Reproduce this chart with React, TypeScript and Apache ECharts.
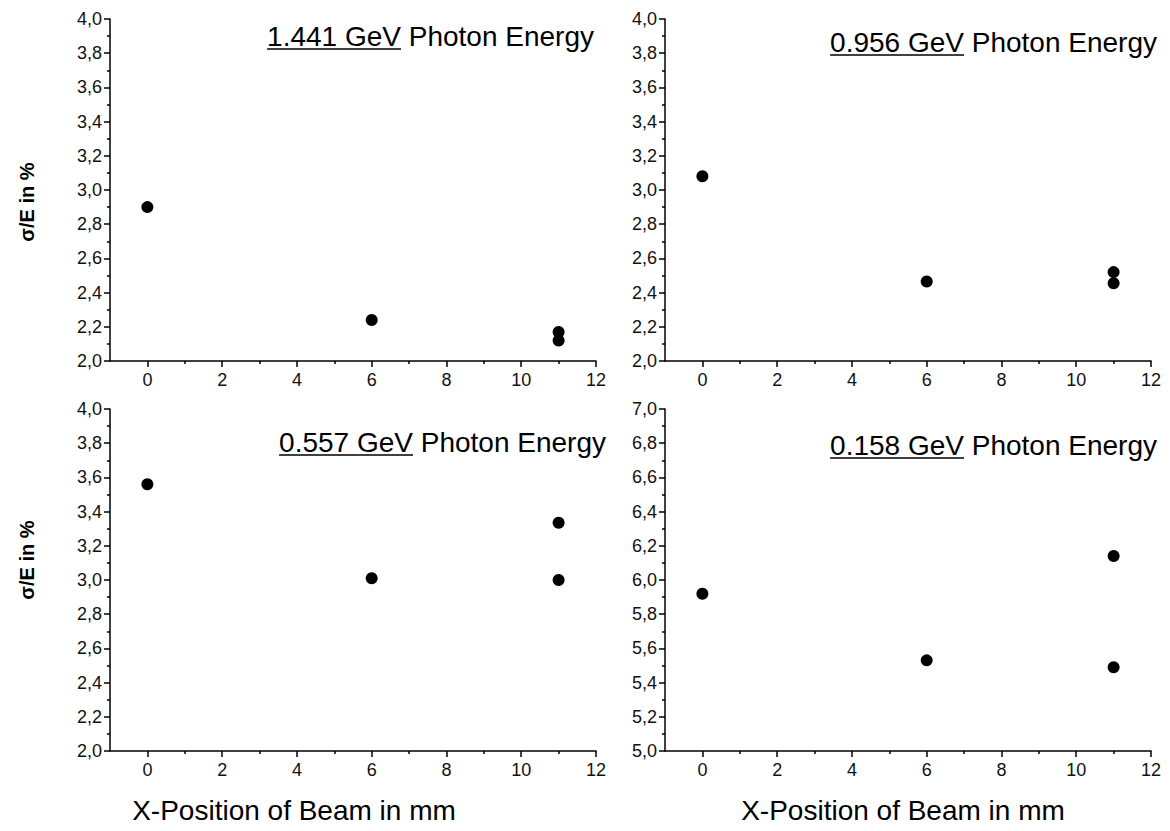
import React, { useEffect, useRef } from "react";
import * as echarts from "echarts";

// ---- data ----
const xPositions = [0, 6, 11, 11];
const energies = ["1.441 GeV", "0.956 GeV", "0.557 GeV", "0.158 GeV"];
const sigmaE_1441 = [2.9, 2.24, 2.17, 2.12];
const sigmaE_0956 = [3.08, 2.465, 2.52, 2.455];
const sigmaE_0557 = [3.56, 3.01, 3.335, 3.0];
const sigmaE_0158 = [5.92, 5.53, 6.14, 5.49];
const panelValues = [sigmaE_1441, sigmaE_0956, sigmaE_0557, sigmaE_0158];
const yMins = [2, 2, 2, 5];
const yMaxs = [4, 4, 4, 7];
const xMajorTicks = [0, 2, 4, 6, 8, 10, 12];
const xMinorTicks = [1, 3, 5, 7, 9, 11];
const yAxisTitle = "σ/E in %";
const xAxisTitle = "X-Position of Beam in mm";
const titleSuffix = " Photon Energy";

// ---- layout ----
const FONT = '"Liberation Sans", Arial, sans-serif';
const grids = [
  { left: 110, top: 19, width: 486, height: 342 },
  { left: 665, top: 19, width: 486, height: 342 },
  { left: 110, top: 409, width: 486, height: 342 },
  { left: 665, top: 409, width: 486, height: 342 },
];
const titleRight = [594, 1157, 606, 1157];
const titleY = [36, 42, 442, 445];
const yTitlePos = [
  [27, 202],
  [27, 560],
];
const xTitlePos = [
  [294, 810],
  [903, 810],
];

function measure(text: string, size: number): number {
  const c = document.createElement("canvas").getContext("2d");
  if (!c) return text.length * size * 0.5;
  c.font = `${size}px "Liberation Sans", Arial, sans-serif`;
  return c.measureText(text).width;
}

export default function App() {
  const ref = useRef<HTMLDivElement>(null);
  useEffect(() => {
    if (!ref.current) return;
    const chart = echarts.init(ref.current, undefined, { renderer: "svg" });
    const xAxes: any[] = [];
    const yAxes: any[] = [];
    const series: any[] = [];
    const graphic: any[] = [];
    const lineStyle = { color: "#000", width: 1.5 };
    grids.forEach((_, i) => {
      xAxes.push({
        gridIndex: i,
        type: "value",
        position: "bottom",
        min: -1,
        max: 12,
        axisLine: { show: true, onZero: false, lineStyle },
        axisTick: { show: true, customValues: xMajorTicks, length: 6, lineStyle },
        axisLabel: {
          show: true,
          customValues: xMajorTicks,
          fontSize: 18,
          color: "#111",
          fontFamily: FONT,
          margin: 10,
        },
        splitLine: { show: false },
      });
      xAxes.push({
        gridIndex: i,
        type: "value",
        position: "bottom",
        min: -1,
        max: 12,
        axisLine: { show: false, onZero: false },
        axisTick: { show: true, customValues: xMinorTicks, length: 3, lineStyle },
        axisLabel: { show: false },
        splitLine: { show: false },
      });
      yAxes.push({
        gridIndex: i,
        type: "value",
        min: yMins[i],
        max: yMaxs[i],
        interval: 0.2,
        axisLine: { show: true, onZero: false, lineStyle },
        axisTick: { show: true, length: 6, lineStyle },
        minorTick: { show: true, splitNumber: 2, length: 3, lineStyle },
        axisLabel: {
          fontSize: 18,
          color: "#111",
          fontFamily: FONT,
          margin: 8,
          formatter: (v: number) => v.toFixed(1).replace(".", ","),
        },
        splitLine: { show: false },
        minorSplitLine: { show: false },
      });
      series.push({
        type: "scatter",
        xAxisIndex: i * 2,
        yAxisIndex: i,
        symbol: "circle",
        symbolSize: 12,
        itemStyle: { color: "#000", opacity: 1 },
        data: xPositions.map((x, k) => [x, panelValues[i][k]]),
      });
      // title with underlined energy
      const full = energies[i] + titleSuffix;
      const fs = 28;
      const wFull = measure(full, fs);
      const wE = measure(energies[i], fs);
      const r = titleRight[i];
      graphic.push({
        type: "text",
        x: r,
        y: titleY[i],
        style: {
          text: full,
          fontSize: fs,
          fontFamily: FONT,
          fill: "#000",
          align: "right",
          verticalAlign: "middle",
        },
      });
      graphic.push({
        type: "line",
        shape: { x1: r - wFull, y1: titleY[i] + 13, x2: r - wFull + wE, y2: titleY[i] + 13 },
        style: { stroke: "#000", lineWidth: 1.5 },
      });
    });
    yTitlePos.forEach(([x, y]) => {
      graphic.push({
        type: "text",
        x,
        y,
        rotation: Math.PI / 2,
        style: {
          text: yAxisTitle,
          fontSize: 20,
          fontWeight: "bold",
          fontFamily: FONT,
          fill: "#000",
          align: "center",
          verticalAlign: "middle",
        },
      });
    });
    xTitlePos.forEach(([x, y]) => {
      graphic.push({
        type: "text",
        x,
        y,
        style: {
          text: xAxisTitle,
          fontSize: 28,
          fontFamily: FONT,
          fill: "#000",
          align: "center",
          verticalAlign: "middle",
        },
      });
    });
    chart.setOption({
      animation: false,
      backgroundColor: "#fff",
      grid: grids.map((g) => ({ ...g, containLabel: false })),
      xAxis: xAxes,
      yAxis: yAxes,
      series,
      graphic,
    });
    return () => chart.dispose();
  }, []);
  return (
    <div
      ref={ref}
      style={{ position: "fixed", left: 0, top: 0, width: 1170, height: 831, background: "#fff" }}
    />
  );
}
